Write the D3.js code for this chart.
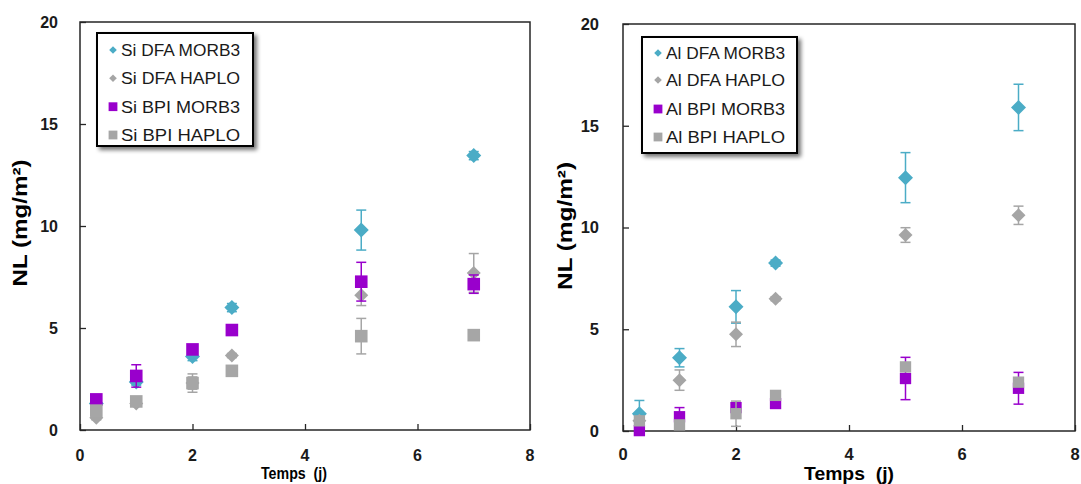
<!DOCTYPE html>
<html>
<head>
<meta charset="utf-8">
<script src="https://cdn.jsdelivr.net/npm/d3@7"></script>
<style>
  html, body { margin: 0; padding: 0; background: #fff; }
  svg { display: block; }
  text { font-family: Arial, "Liberation Sans", sans-serif; }
</style>
</head>
<body>
<svg id="chart" width="1081" height="484"></svg>
<script>
// ---------- data ----------
const days = [0.29, 1, 2, 2.7, 5, 7];
const xTicks = [0, 2, 4, 6, 8];
const yTicks = [0, 5, 10, 15, 20];
const xTitle = "Temps  (j)";
const yTitle = "NL (mg/m²)";

const siNames = ["Si DFA MORB3", "Si DFA HAPLO", "Si BPI MORB3", "Si BPI HAPLO"];
const siDfaMorb3 = [1.3, 2.35, 3.6, 6.0, 9.8, 13.45];
const siDfaMorb3Err = [0.1, 0.15, 0.2, 0.2, 0.98, 0.2];
const siDfaHaplo = [0.6, 1.3, 2.3, 3.65, 6.6, 7.7];
const siDfaHaploErr = [0.1, 0.1, 0.45, 0.1, 0.5, 0.95];
const siBpiMorb3 = [1.5, 2.65, 3.95, 4.9, 7.27, 7.15];
const siBpiMorb3Err = [0.1, 0.55, 0.1, 0.1, 0.95, 0.45];
const siBpiHaplo = [0.95, 1.4, 2.3, 2.9, 4.6, 4.65];
const siBpiHaploErr = [0.1, 0.1, 0.3, 0.1, 0.87, 0.1];

const alNames = ["Al DFA MORB3", "Al DFA HAPLO", "Al BPI MORB3", "Al BPI HAPLO"];
const alDfaMorb3 = [0.85, 3.6, 6.1, 8.25, 12.45, 15.9];
const alDfaMorb3Err = [0.65, 0.45, 0.8, 0.15, 1.23, 1.14];
const alDfaHaplo = [0.5, 2.5, 4.75, 6.5, 9.63, 10.6];
const alDfaHaploErr = [0.1, 0.5, 0.6, 0.1, 0.36, 0.45];
const alBpiMorb3 = [0.02, 0.7, 1.15, 1.35, 2.58, 2.1];
const alBpiMorb3Err = [0.05, 0.45, 0.1, 0.1, 1.04, 0.78];
const alBpiHaplo = [0.5, 0.3, 0.85, 1.75, 3.15, 2.4];
const alBpiHaploErr = [0.1, 0.1, 0.62, 0.1, 0.1, 0.1];

// ---------- styles ----------
const seriesStyle = [
  { shape: "diamond", color: "#4BACC6", size: 7.5, legSize: 3.8 },
  { shape: "diamond", color: "#A5A5A5", size: 7, legSize: 3.8 },
  { shape: "square", color: "#9900CC", size: 6.3, legSize: 4.4 },
  { shape: "square", color: "#A6A6A6", size: 6.3, legSize: 4.4 }
];

const panels = [
  {
    names: siNames,
    values: [siDfaMorb3, siDfaHaplo, siBpiMorb3, siBpiHaplo],
    errors: [siDfaMorb3Err, siDfaHaploErr, siBpiMorb3Err, siBpiHaploErr],
    box: { left: 80, right: 530, top: 22, bottom: 430 },
    legend: { x: 97, y: 33, w: 156, h: 113, rows: [50, 78.3, 106.7, 135], mx: 113, tx: 121 },
    yLabelX: 27, yLabelY: 223, yLabelLen: 127, yLabelSize: 21,
    xTitle: { x: 294, y: 478.5, size: 16, len: 66 },
    tickSize: 16, xTickBase: 460.5, yTickEnd: 58, squareScale: 1.0
  },
  {
    names: alNames,
    values: [alDfaMorb3, alDfaHaplo, alBpiMorb3, alBpiHaplo],
    errors: [alDfaMorb3Err, alDfaHaploErr, alBpiMorb3Err, alBpiHaploErr],
    box: { left: 623, right: 1075, top: 24, bottom: 431 },
    legend: { x: 642, y: 37, w: 155, h: 116, rows: [53, 80, 109, 137], mx: 658, tx: 666 },
    yLabelX: 572, yLabelY: 226, yLabelLen: 128, yLabelSize: 21,
    xTitle: { x: 849, y: 480, size: 18, len: 90 },
    tickSize: 16.5, xTickBase: 459.5, yTickEnd: 599, squareScale: 0.9
  }
];

const svg = d3.select("#chart");

const defs = svg.append("defs");
const f = defs.append("filter").attr("id", "shadow")
  .attr("x", "-10%").attr("y", "-10%").attr("width", "130%").attr("height", "130%");
f.append("feGaussianBlur").attr("in", "SourceAlpha").attr("stdDeviation", 2).attr("result", "b");
f.append("feOffset").attr("in", "b").attr("dx", 3).attr("dy", 3).attr("result", "o");
f.append("feComponentTransfer").attr("in", "o").attr("result", "o2")
  .append("feFuncA").attr("type", "linear").attr("slope", 0.55);
const fm = f.append("feMerge");
fm.append("feMergeNode").attr("in", "o2");
fm.append("feMergeNode").attr("in", "SourceGraphic");

function shapePath(shape, r) {
  if (shape === "diamond") return `M0,${-r}L${r},0L0,${r}L${-r},0Z`;
  return `M${-r},${-r}H${r}V${r}H${-r}Z`;
}

panels.forEach(p => {
  const x = d3.scaleLinear().domain([0, 8]).range([p.box.left, p.box.right]);
  const y = d3.scaleLinear().domain([0, 20]).range([p.box.bottom, p.box.top]);
  const g = svg.append("g");

  // frame
  g.append("rect")
    .attr("x", p.box.left).attr("y", p.box.top)
    .attr("width", p.box.right - p.box.left).attr("height", p.box.bottom - p.box.top)
    .attr("fill", "none").attr("stroke", "#262626").attr("stroke-width", 1.5);

  // axes with inner ticks
  const xAxis = d3.axisBottom(x).tickValues(xTicks).tickSizeInner(-6).tickSizeOuter(0).tickFormat(d3.format("d"));
  const gx = g.append("g").attr("transform", `translate(0,${p.box.bottom})`).call(xAxis);
  gx.select(".domain").remove();
  gx.selectAll(".tick line").attr("stroke", "#262626").attr("stroke-width", 1.3);
  gx.selectAll(".tick text").remove();

  const yAxis = d3.axisLeft(y).tickValues(yTicks).tickSizeInner(-6).tickSizeOuter(0);
  const gy = g.append("g").attr("transform", `translate(${p.box.left},0)`).call(yAxis);
  gy.select(".domain").remove();
  gy.selectAll(".tick line").attr("stroke", "#262626").attr("stroke-width", 1.3);
  gy.selectAll(".tick text").remove();

  // tick labels
  g.selectAll(".xtl").data(xTicks).enter().append("text")
    .attr("x", d => x(d)).attr("y", p.xTickBase)
    .attr("text-anchor", "middle").attr("font-size", p.tickSize).attr("font-weight", "bold")
    .attr("fill", "#1a1a1a").text(d => d);
  g.selectAll(".ytl").data(yTicks).enter().append("text")
    .attr("x", p.yTickEnd).attr("y", d => y(d) + p.tickSize * 0.36)
    .attr("text-anchor", "end").attr("font-size", p.tickSize).attr("font-weight", "bold")
    .attr("fill", "#1a1a1a").text(d => d);

  // axis titles
  g.append("text")
    .attr("x", p.xTitle.x).attr("y", p.xTitle.y)
    .attr("text-anchor", "middle").attr("font-size", p.xTitle.size).attr("font-weight", "bold")
    .attr("textLength", p.xTitle.len).attr("lengthAdjust", "spacingAndGlyphs")
    .attr("fill", "#000").attr("xml:space", "preserve").text(xTitle);
  g.append("text")
    .attr("transform", `translate(${p.yLabelX},${p.yLabelY}) rotate(-90)`)
    .attr("text-anchor", "middle").attr("font-size", p.yLabelSize).attr("font-weight", "bold")
    .attr("textLength", p.yLabelLen).attr("lengthAdjust", "spacingAndGlyphs")
    .attr("fill", "#000").text(yTitle);

  // series
  p.values.forEach((vals, si) => {
    const st = seriesStyle[si];
    const errs = p.errors[si];
    const sg = g.append("g");
    const pts = days.map((d, i) => ({ d, v: vals[i], e: errs[i] }));
    // error bars
    const eb = sg.selectAll(".eb").data(pts).enter().append("g")
      .attr("stroke", st.color).attr("stroke-width", 1.5).attr("fill", "none");
    eb.append("line").attr("x1", d => x(d.d)).attr("x2", d => x(d.d))
      .attr("y1", d => y(d.v + d.e)).attr("y2", d => y(d.v - d.e));
    eb.append("line").attr("x1", d => x(d.d) - 5).attr("x2", d => x(d.d) + 5)
      .attr("y1", d => y(d.v + d.e)).attr("y2", d => y(d.v + d.e));
    eb.append("line").attr("x1", d => x(d.d) - 5).attr("x2", d => x(d.d) + 5)
      .attr("y1", d => y(d.v - d.e)).attr("y2", d => y(d.v - d.e));
    // markers
    const r = st.shape === "square" ? st.size * p.squareScale : st.size;
    sg.selectAll(".mk").data(pts).enter().append("path")
      .attr("transform", d => `translate(${x(d.d)},${y(d.v)})`)
      .attr("d", shapePath(st.shape, r))
      .attr("fill", st.color);
  });

  // legend
  const L = p.legend;
  const lg = g.append("g");
  lg.append("rect").attr("x", L.x).attr("y", L.y).attr("width", L.w).attr("height", L.h)
    .attr("fill", "#fff").attr("stroke", "#000").attr("stroke-width", 2)
    .attr("filter", "url(#shadow)");
  p.names.forEach((name, i) => {
    const st = seriesStyle[i];
    lg.append("path").attr("transform", `translate(${L.mx},${L.rows[i]})`)
      .attr("d", shapePath(st.shape, st.legSize)).attr("fill", st.color);
    lg.append("text").attr("x", L.tx).attr("y", L.rows[i] + 5.8)
      .attr("font-size", 16).attr("fill", "#1a1a1a")
      .attr("textLength", 119).attr("lengthAdjust", "spacingAndGlyphs")
      .text(name);
  });
});
</script>
</body>
</html>
